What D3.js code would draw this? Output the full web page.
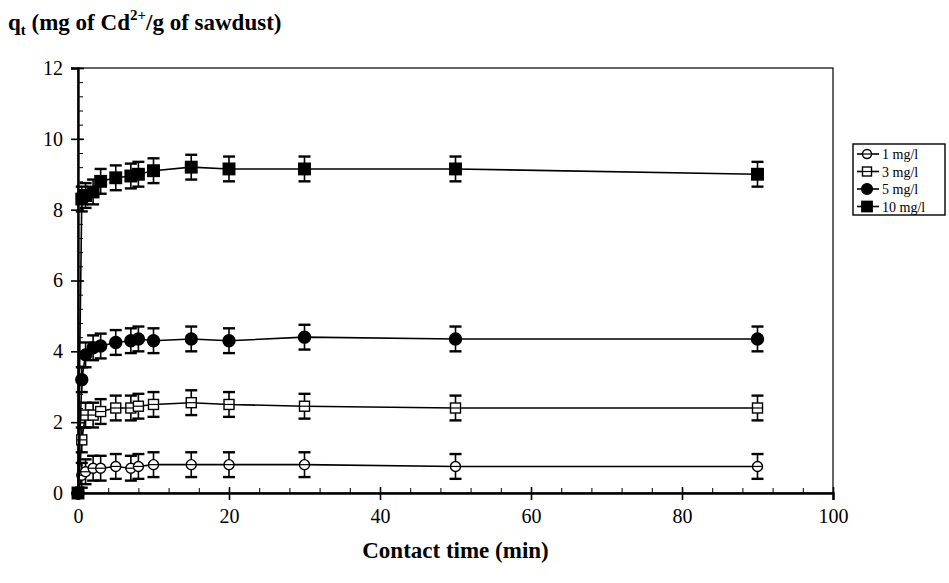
<!DOCTYPE html>
<html>
<head>
<meta charset="utf-8">
<script src="https://cdn.jsdelivr.net/npm/d3@7"></script>
<style>
    body { margin: 0; background: #fff; }
    text { font-family: "Liberation Serif", "Times New Roman", serif; fill: #000; }
</style>
</head>
<body>
<div id="chart"></div>
<script>
// contact time (min)
const TIMES = [0, 0.5, 1, 2, 3, 5, 7, 8, 10, 15, 20, 30, 50, 90];

// q_t values for each initial concentration
const Q_1 = [0, 0.5, 0.6, 0.7, 0.7, 0.75, 0.7, 0.75, 0.8, 0.8, 0.8, 0.8, 0.75, 0.75];
const Q_3 = [0, 1.5, 2.2, 2.2, 2.3, 2.4, 2.4, 2.45, 2.5, 2.55, 2.5, 2.45, 2.4, 2.4];
const Q_5 = [0, 3.2, 3.9, 4.1, 4.15, 4.25, 4.3, 4.35, 4.3, 4.35, 4.3, 4.4, 4.35, 4.35];
const Q_10 = [0, 8.3, 8.4, 8.5, 8.8, 8.9, 8.95, 9.0, 9.1, 9.2, 9.15, 9.15, 9.15, 9.0];

// error bar half height per series
const ERRORS = [0.35, 0.35, 0.35, 0.35];

const SERIES_LABELS = ["1 mg/l", "3 mg/l", "5 mg/l", "10 mg/l"];
const MARKERS = ["circle-open", "square-open", "circle", "square"];

const X_TICKS = [0, 20, 40, 60, 80, 100];
const Y_TICKS = [0, 2, 4, 6, 8, 10, 12];

const width = 949, height = 583;
const margin = {left: 78, right: 116, top: 68, bottom: 90};
const plotW = width - margin.left - margin.right;
const plotH = height - margin.top - margin.bottom;

const svg = d3.select("#chart").append("svg")
    .attr("width", width)
    .attr("height", height);

const x = d3.scaleLinear().domain([0, 100]).range([margin.left, margin.left + plotW]);
const y = d3.scaleLinear().domain([0, 12]).range([margin.top + plotH, margin.top]);

// frame
svg.append("rect")
    .attr("x", x(0)).attr("y", y(12))
    .attr("width", x(100) - x(0)).attr("height", y(0) - y(12))
    .attr("fill", "none").attr("stroke", "#000").attr("stroke-width", 1.2);

// bottom axis: major ticks cross, minor ticks inside
svg.append("g")
    .attr("transform", "translate(0," + y(0) + ")")
    .call(d3.axisBottom(x).tickValues(d3.range(0, 101, 4)).tickSize(-5).tickFormat(""))
    .call(g => g.select(".domain").remove());

let xMajor = svg.append("g")
    .attr("transform", "translate(0," + y(0) + ")")
    .call(d3.axisBottom(x).tickValues(X_TICKS).tickSize(7).tickPadding(9).tickFormat(d3.format("d")));
xMajor.select(".domain").attr("stroke-width", 2.4);
xMajor.selectAll(".tick line").attr("stroke-width", 1.6).attr("y1", -6);
xMajor.selectAll("text").style("font-size", "20px").style("font-family", "Liberation Serif");

// left axis
svg.append("g")
    .attr("transform", "translate(" + x(0) + ",0)")
    .call(d3.axisLeft(y).tickValues(d3.range(0, 12.01, 0.4)).tickSize(-5).tickFormat(""))
    .call(g => g.select(".domain").remove());

let yMajor = svg.append("g")
    .attr("transform", "translate(" + x(0) + ",0)")
    .call(d3.axisLeft(y).tickValues(Y_TICKS).tickSize(7).tickPadding(8).tickFormat(d3.format("d")));
yMajor.select(".domain").attr("stroke-width", 2.4);
yMajor.selectAll(".tick line").attr("stroke-width", 1.6).attr("x1", 6);
yMajor.selectAll("text").style("font-size", "20px").style("font-family", "Liberation Serif");

svg.selectAll(".tick line").attr("stroke", "#000");

// series
const seriesData = [Q_1, Q_3, Q_5, Q_10].map((vals, i) => ({
    label: SERIES_LABELS[i],
    marker: MARKERS[i],
    err: ERRORS[i],
    points: TIMES.map((t, j) => ({t: t, q: vals[j]}))
}));

function drawMarker(g, type, size) {
    if (type === "circle-open" || type === "circle") {
        g.append("circle")
            .attr("r", type === "circle" ? size * 0.6 : size * 0.5)
            .attr("fill", type === "circle" ? "#000" : "#fff")
            .attr("stroke", "#000").attr("stroke-width", 1.4);
        if (type === "circle-open") {
            g.append("line").attr("x1", -size * 0.5).attr("x2", size * 0.5)
                .attr("stroke", "#000").attr("stroke-width", 1.2);
        }
    } else {
        let s = type === "square" ? size * 1.15 : size;
        g.append("rect")
            .attr("x", -s / 2).attr("y", -s / 2)
            .attr("width", s).attr("height", s)
            .attr("fill", type === "square" ? "#000" : "#fff")
            .attr("stroke", "#000").attr("stroke-width", 1.4);
        if (type === "square-open") {
            g.append("line").attr("x1", -s / 2).attr("x2", s / 2)
                .attr("stroke", "#000").attr("stroke-width", 1.2);
        }
    }
}

const line = d3.line().x(d => x(d.t)).y(d => y(d.q));

seriesData.forEach(s => {
    let g = svg.append("g").attr("class", "series");

    g.append("path")
        .datum(s.points)
        .attr("d", line)
        .attr("fill", "none")
        .attr("stroke", "#000")
        .attr("stroke-width", 1.6);

    // error bars
    let bars = g.selectAll(".err")
        .data(s.points.filter(d => d.t > 0))
        .enter().append("g")
        .attr("class", "err");
    bars.append("line")
        .attr("x1", d => x(d.t)).attr("x2", d => x(d.t))
        .attr("y1", d => y(d.q - s.err)).attr("y2", d => y(d.q + s.err))
        .attr("stroke", "#000").attr("stroke-width", 1.6);
    [-1, 1].forEach(sign => {
        bars.append("line")
            .attr("x1", d => x(d.t) - 6).attr("x2", d => x(d.t) + 6)
            .attr("y1", d => y(d.q + sign * s.err)).attr("y2", d => y(d.q + sign * s.err))
            .attr("stroke", "#000").attr("stroke-width", 2.4);
    });

    g.selectAll(".pt")
        .data(s.points)
        .enter().append("g")
        .attr("class", "pt")
        .attr("transform", d => "translate(" + x(d.t) + "," + y(d.q) + ")")
        .each(function () { drawMarker(d3.select(this), s.marker, 10); });
});

// legend
const legend = svg.append("g").attr("transform", "translate(853,144)");
legend.append("rect")
    .attr("width", 92).attr("height", 71)
    .attr("fill", "#fff").attr("stroke", "#000").attr("stroke-width", 1.4);

seriesData.forEach((s, i) => {
    let row = legend.append("g").attr("transform", "translate(0," + (10 + i * 17.5) + ")");
    row.append("line").attr("x1", 4).attr("x2", 26)
        .attr("stroke", "#000").attr("stroke-width", 1.6);
    let m = row.append("g").attr("transform", "translate(14,0)");
    drawMarker(m, s.marker, 9);
    row.append("text")
        .attr("x", 29).attr("y", 5)
        .style("font-size", "14px")
        .text(s.label);
});

// y axis title
const yTitle = svg.append("text")
    .attr("x", 8).attr("y", 30)
    .style("font-size", "23px").style("font-weight", "bold");
yTitle.append("tspan").text("q");
yTitle.append("tspan").attr("dy", 5).style("font-size", "15px").text("t");
yTitle.append("tspan").attr("dy", -5).text(" (mg of Cd");
yTitle.append("tspan").attr("dy", -10).style("font-size", "15px").text("2+");
yTitle.append("tspan").attr("dy", 10).text("/g of sawdust)");

// x axis title
svg.append("text")
    .attr("x", (x(0) + x(100)) / 2).attr("y", 558)
    .attr("text-anchor", "middle")
    .style("font-size", "23px").style("font-weight", "bold")
    .text("Contact time (min)");
</script>
</body>
</html>
